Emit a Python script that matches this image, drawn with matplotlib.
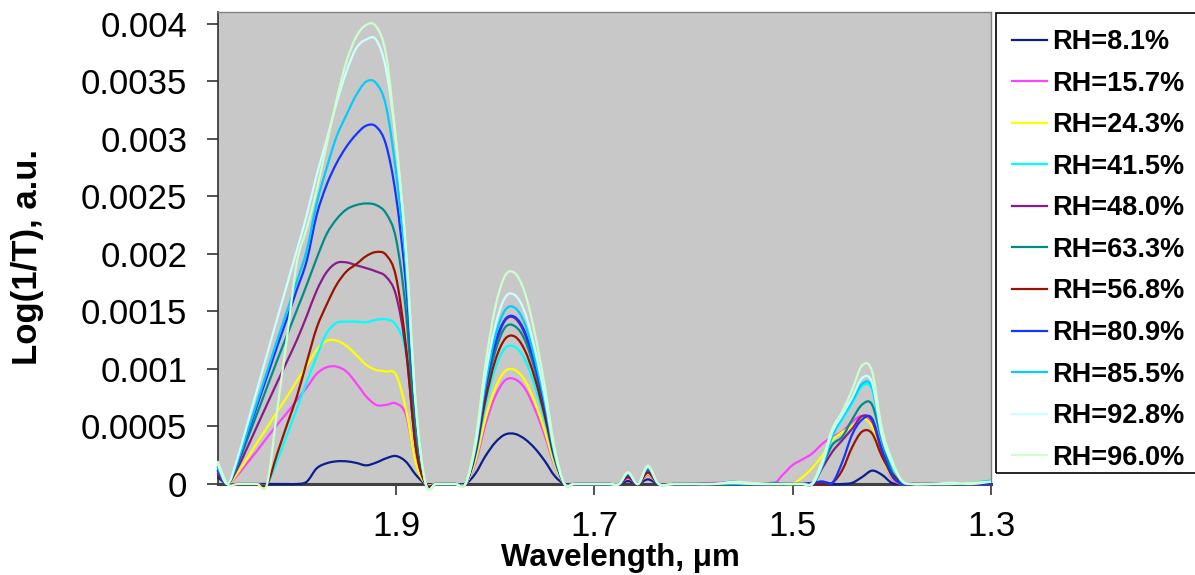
import numpy as np
import matplotlib
matplotlib.use("Agg")
import matplotlib.pyplot as plt
from matplotlib.path import Path
from matplotlib.patches import PathPatch, Rectangle
from matplotlib.lines import Line2D

plt.rcParams['font.family'] = ['Liberation Sans', 'DejaVu Sans']

# wavelength grid, um
wavelength = [2.08, 2.07, 2.06, 2.05, 2.04, 2.03, 2.02, 2.01, 2.00, 1.99,
              1.98, 1.97, 1.96, 1.95, 1.94, 1.93, 1.92, 1.91, 1.90, 1.89,
              1.88, 1.87, 1.86, 1.85, 1.84, 1.83, 1.82, 1.81, 1.80, 1.79,
              1.78, 1.77, 1.76, 1.75, 1.74, 1.73, 1.72, 1.70, 1.685, 1.675,
              1.666, 1.656, 1.646, 1.635, 1.62, 1.60, 1.58, 1.56, 1.54, 1.52,
              1.51, 1.50, 1.49, 1.48, 1.47, 1.46, 1.45, 1.44, 1.43, 1.42,
              1.41, 1.40, 1.39, 1.38, 1.36, 1.34, 1.32, 1.30]

# Log(1/T) in units of 1e-4
rh_8_1 = [0.6, 0, 0, 0, 0, 0, 0, 0, 0, 0.2,
          1.36, 1.8, 1.97, 1.97, 1.83, 1.62, 1.86, 2.23, 2.43, 1.94,
          0.8, 0, 0, 0, 0, 0, 0.9, 2.4, 3.6, 4.3,
          4.35, 3.9, 3.1, 2.0, 0.7, 0, 0, 0, 0, 0,
          0.25, 0, 0.4, 0, 0, 0, 0, 0, 0, 0,
          0, 0, 0, 0.1, 0.2, 0, 0, 0.1, 0.6, 1.16,
          0.8, 0.1, 0, 0, 0, 0, 0, 0]
rh_15_7 = [0.9, 0, 0.75, 1.83, 2.9, 4.03, 5.13, 6.17, 7.28, 8.38,
           9.57, 10.14, 10.2, 9.77, 8.75, 7.6, 6.87, 6.87, 7.0, 6.0,
           1.9, 0, 0, 0, 0, 0, 1.8, 5.1, 7.6, 9.0,
           9.1, 8.3, 6.5, 4.2, 1.6, 0, 0, 0, 0, 0,
           0.5, 0, 0.8, 0, 0, 0, 0.1, 0.1, 0.1, 0,
           0.8, 1.65, 2.14, 2.67, 3.5, 4.1, 4.55, 5.4, 5.9, 5.1,
           2.5, 0.5, 0, 0, 0, 0, 0, 0]
rh_24_3 = [1.2, 0, 0.93, 2.23, 3.6, 4.9, 6.26, 7.57, 8.93, 10.26,
           11.65, 12.43, 12.46, 12.0, 11.2, 10.35, 9.9, 9.77, 9.5, 6.5,
           1.8, 0, 0, 0, 0, 0, 2.0, 5.6, 8.3, 9.8,
           9.9, 9.0, 7.1, 4.6, 1.7, 0, 0, 0, 0, 0,
           0.6, 0, 0.9, 0, 0, 0, 0, 0, 0, 0,
           0, 0, 0.6, 1.4, 2.5, 3.8, 4.5, 5.0, 5.7, 5.0,
           2.4, 0.6, 0, 0, 0, 0, 0, 0]
rh_41_5 = [1.0, 0, 0, 0, 0, 0, 2.0, 4.23, 6.55, 8.87,
           11.07, 13.1, 14.0, 14.1, 14.1, 14.06, 14.26, 14.3, 13.8, 11.4,
           3.2, 0, 0, 0, 0, 0, 2.4, 6.7, 10.0, 11.8,
           11.9, 10.8, 8.5, 5.5, 2.0, 0, 0, 0, 0, 0,
           0.7, 0, 1.1, 0, 0, 0, 0, 0, 0, 0,
           0, 0, 0, 0, 1.5, 4.1, 5.6, 7.0, 8.5, 8.2,
           3.9, 1.6, 0.2, 0, 0, 0, 0, 0.2]
rh_48_0 = [1.0, 0, 1.33, 3.16, 5.04, 6.93, 8.8, 10.64, 12.5, 14.6,
           16.8, 18.4, 19.2, 19.25, 19.0, 18.75, 18.46, 18.0, 16.4, 11.6,
           3.2, 0, 0, 0, 0, 0, 2.9, 8.1, 12.0, 14.2,
           14.4, 13.0, 10.3, 6.6, 2.5, 0, 0, 0, 0, 0,
           0.6, 0, 1.0, 0, 0, 0, 0, 0, 0, 0,
           0, 0, 0, 0, 1.4, 2.8, 3.8, 4.8, 5.9, 5.5,
           2.8, 0.7, 0, 0, 0, 0, 0, 0]
rh_63_3 = [1.2, 0, 1.62, 3.88, 6.14, 8.43, 10.7, 12.9, 15.1, 17.3,
           19.6, 21.7, 23.0, 23.85, 24.23, 24.37, 24.23, 23.5, 21.3, 15.0,
           4.2, 0, 0, 0, 0, 0, 2.8, 7.8, 11.5, 13.6,
           13.7, 12.5, 9.9, 6.4, 2.4, 0, 0, 0, 0, 0,
           0.8, 0, 1.2, 0, 0, 0, 0, 0, 0, 0.1,
           0, 0, 0, 0, 1.6, 3.4, 4.1, 5.6, 6.9, 6.9,
           3.8, 1.1, 0.2, 0, 0, 0, 0, 0]
rh_56_8 = [0.8, 0, 0, 0, 0, 0, 2.58, 5.13, 7.6, 10.6,
           13.56, 15.57, 17.3, 18.46, 19.1, 19.8, 20.15, 19.9, 18.0, 12.0,
           3.2, 0, 0, 0, 0, 0, 2.6, 7.2, 10.7, 12.6,
           12.8, 11.6, 9.2, 5.9, 2.2, 0, 0, 0, 0, 0,
           0.6, 0, 1.0, 0, 0, 0, 0, 0, 0, 0,
           0, 0, 0, 0, 0, 0.1, 1.2, 3.2, 4.55, 4.4,
           2.4, 0.9, 0.2, 0, 0, 0, 0, 0]
rh_80_9 = [1.2, 0, 1.83, 4.29, 6.84, 9.36, 11.9, 14.35, 16.87, 19.4,
           23.36, 25.97, 27.86, 29.3, 30.38, 31.13, 31.04, 29.45, 25.0, 17.4,
           6.0, 0, 0, 0, 0, 0, 2.9, 8.2, 12.2, 14.3,
           14.5, 13.2, 10.4, 6.7, 2.5, 0, 0, 0, 0, 0,
           0.8, 0, 1.3, 0, 0, 0, 0, 0.2, 0, 0,
           0, 0, 0, 0.1, 0.2, 0.1, 1.9, 4.3, 5.6, 5.7,
           3.0, 0.8, 0, 0, 0, 0, 0, 0]
rh_85_5 = [1.5, 0, 1.91, 4.49, 7.13, 9.77, 12.43, 15.0, 17.6, 20.3,
           24.38, 27.42, 30.17, 32.06, 33.8, 34.96, 34.81, 32.8, 27.1, 18.9,
           6.5, 0, 0, 0, 0, 0, 3.1, 8.6, 12.8, 15.1,
           15.3, 13.9, 10.9, 7.1, 2.6, 0, 0, 0, 0, 0,
           0.9, 0, 1.4, 0, 0, 0, 0, 0, 0, 0,
           0, 0, 0, 0, 1.6, 4.2, 5.8, 7.2, 8.7, 8.4,
           4.0, 1.7, 0.2, 0, 0, 0, 0.1, 0.3]
rh_92_8 = [1.8, 0, 2.2, 5.19, 8.23, 11.28, 14.3, 17.3, 20.3, 23.36,
           26.84, 29.88, 33.07, 35.83, 37.86, 38.61, 38.58, 36.0, 29.8, 20.2,
           6.8, 0, 0, 0, 0, 0, 3.3, 9.3, 13.7, 16.2,
           16.4, 14.9, 11.7, 7.6, 2.8, 0, 0, 0, 0, 0,
           1.0, 0, 1.5, 0, 0, 0, 0, 0.1, 0, 0,
           0, 0, 0, 0, 1.8, 4.5, 6.0, 7.5, 9.2, 8.8,
           4.2, 1.8, 0.3, 0, 0, 0.1, 0, 0.2]
rh_96_0 = [2.0, 0, 0, 0, 0, 0, 6.29, 12.67, 19.25, 22.2,
           25.54, 29.45, 33.36, 36.7, 38.87, 39.88, 39.74, 37.27, 29.8, 20.5,
           6.9, 0, 0, 0, 0, 0, 3.7, 10.3, 15.3, 18.1,
           18.3, 16.6, 13.1, 8.5, 3.1, 0, 0, 0, 0, 0,
           1.0, 0, 1.6, 0, 0, 0, 0, 0.2, 0.1, 0,
           0, 0, 0, 0.1, 2.1, 4.8, 6.3, 8.2, 10.3, 9.8,
           4.8, 2.1, 0.3, 0, 0, 0, 0.1, 0.2]

series = [rh_8_1, rh_15_7, rh_24_3, rh_41_5, rh_48_0, rh_63_3,
          rh_56_8, rh_80_9, rh_85_5, rh_92_8, rh_96_0]
labels = ['RH=8.1%', 'RH=15.7%', 'RH=24.3%', 'RH=41.5%', 'RH=48.0%',
          'RH=63.3%', 'RH=56.8%', 'RH=80.9%', 'RH=85.5%', 'RH=92.8%',
          'RH=96.0%']
colors = ['#0A1F8F', '#FF40FF', '#FFFF00', '#00FFFF', '#8B1A8B', '#008B8B',
          '#991400', '#1434FF', '#00CCFF', '#CCFFFF', '#CCFFCC']

ytick_vals = [0, 0.0005, 0.001, 0.0015, 0.002, 0.0025, 0.003, 0.0035, 0.004]
ytick_labels = ['0', '0.0005', '0.001', '0.0015', '0.002', '0.0025',
                '0.003', '0.0035', '0.004']
xtick_vals = [1.9, 1.7, 1.5, 1.3]
xtick_labels = ['1.9', '1.7', '1.5', '1.3']


def smooth_path(x, y):
    # smoothed line through the points, like the spreadsheet's smooth lines
    pts = np.column_stack([x, y])
    n = len(pts)
    verts = [pts[0]]
    codes = [Path.MOVETO]
    for i in range(n - 1):
        p0 = pts[max(i - 1, 0)]
        p1 = pts[i]
        p2 = pts[i + 1]
        p3 = pts[min(i + 2, n - 1)]
        verts += [p1 + (p2 - p0) / 6, p2 - (p3 - p1) / 6, p2]
        codes += [Path.CURVE4] * 3
    return Path(verts, codes)


W, H = 1195, 575
fig = plt.figure(figsize=(W / 100, H / 100), dpi=100)
ax = fig.add_axes([218 / W, 91 / H, 773 / W, 472 / H])
ax.set_facecolor('#C8C8C8')

handles = []
for vals, color, label in zip(series, colors, labels):
    y = np.array(vals) * 1e-4
    ax.add_patch(PathPatch(smooth_path(wavelength, y), facecolor='none',
                           edgecolor=color, lw=1.6, zorder=3, clip_on=False))
    handles.append(Line2D([], [], color=color, lw=1.6, label=label))

ax.set_xlim(2.0795, 1.30)
ax.set_ylim(0, 0.0041)
ax.set_xticks(xtick_vals)
ax.set_xticklabels(xtick_labels)
ax.set_yticks(ytick_vals)
ax.set_yticklabels(ytick_labels)
ax.tick_params(axis='both', direction='out', length=8, width=1.2,
               color='#333333', labelsize=25)
ax.tick_params(axis='y', pad=14)
ax.tick_params(axis='x', pad=11)

ax.spines['bottom'].set_color('#404040')
ax.spines['bottom'].set_linewidth(2.2)
ax.spines['left'].set_color('#303030')
ax.spines['left'].set_linewidth(1.2)
for s in ['top', 'right']:
    ax.spines[s].set_color('#808080')
    ax.spines[s].set_linewidth(1.0)

fig.text(620 / W, 9 / H, 'Wavelength, μm', ha='center', va='baseline',
         fontsize=22.5, fontweight='bold')
fig.text(28 / W, 1 - 257 / H, 'Log(1/T), a.u.', rotation=90, ha='center',
         va='center', fontsize=25, fontweight='bold')

fig.legend(handles=handles, loc='upper left',
           bbox_to_anchor=(1012 / W, 1 - 29 / H), frameon=False,
           prop={'weight': 'bold', 'size': 19.5}, handlelength=1.3,
           handletextpad=0.2, labelspacing=0.575, borderpad=0,
           borderaxespad=0)
fig.add_artist(Rectangle((996 / W, 1 - 473 / H), 0.3, 460 / H,
                         transform=fig.transFigure, fill=False,
                         edgecolor='black', lw=1.2))

fig.savefig('out.png', dpi=100)
